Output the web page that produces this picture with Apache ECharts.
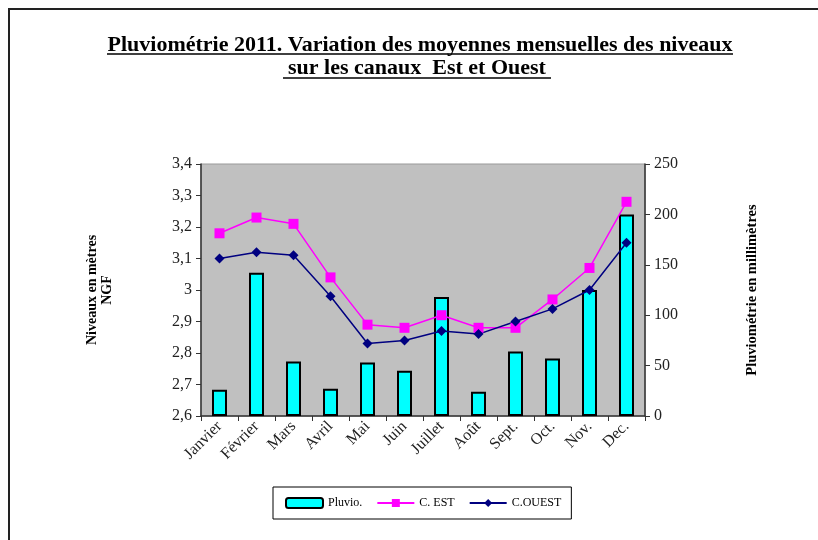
<!DOCTYPE html>
<html>
<head>
<meta charset="utf-8">
<script src="https://cdn.jsdelivr.net/npm/echarts@6/dist/echarts.min.js"></script>
<style>
html, body { margin: 0; padding: 0; background: #fff; }
#chart { width: 818px; height: 540px; }
</style>
</head>
<body>
<div id="chart"></div>
<script>
// monthly data
var months = ['Janvier', 'Février', 'Mars', 'Avril', 'Mai', 'Juin', 'Juillet', 'Août', 'Sept.', 'Oct.', 'Nov.', 'Dec.'];
var pluvio = [26, 142, 54, 27, 53, 45, 118, 24, 64, 57, 125, 200];
var canalEst = [3.18, 3.23, 3.21, 3.04, 2.89, 2.88, 2.92, 2.88, 2.88, 2.97, 3.07, 3.28];
var canalOuest = [3.10, 3.12, 3.11, 2.98, 2.83, 2.84, 2.87, 2.86, 2.90, 2.94, 3.00, 3.15];

var serif = '"Liberation Serif", "DejaVu Serif", serif';

var chart = echarts.init(document.getElementById('chart'));
var option = {
    backgroundColor: '#fff',
    animation: false,
    textStyle: { fontFamily: serif },
    graphic: [
        { type: 'polyline', shape: { points: [[9, 540], [9, 9], [818, 9]] }, style: { stroke: '#222', lineWidth: 2, fill: null } },
        { type: 'text', x: 420, y: 34, style: { text: 'Pluviométrie 2011. Variation des moyennes mensuelles des niveaux', font: 'bold 22px ' + serif, fill: '#000', align: 'center' } },
        { type: 'text', x: 417, y: 57, style: { text: 'sur les canaux  Est et Ouest', font: 'bold 22px ' + serif, fill: '#000', align: 'center' } },
        { type: 'line', shape: { x1: 107, y1: 54, x2: 733, y2: 54 }, style: { stroke: '#000', lineWidth: 1.5 } },
        { type: 'line', shape: { x1: 283, y1: 78, x2: 551, y2: 78 }, style: { stroke: '#000', lineWidth: 1.5 } }
    ],
    legend: {
        left: 273,
        top: 487,
        borderColor: '#000',
        borderWidth: 1,
        padding: [10, 10, 10, 12],
        itemGap: 14,
        itemWidth: 37,
        itemHeight: 10,
        textStyle: { fontFamily: serif, fontSize: 12, color: '#000' },
        data: ['Pluvio.', 'C. EST', 'C.OUEST']
    },
    grid: {
        left: 201,
        right: 173,
        top: 164,
        bottom: 124,
        show: true,
        backgroundColor: '#C0C0C0',
        borderColor: '#999',
        borderWidth: 1
    },
    xAxis: {
        type: 'category',
        data: months,
        axisLine: { lineStyle: { color: '#333', width: 1.5 } },
        axisTick: { show: true, length: 5, lineStyle: { color: '#333' } },
        axisLabel: { rotate: 45, color: '#222', fontFamily: serif, fontSize: 16, margin: 8 }
    },
    yAxis: [
        {
            type: 'value',
            min: 2.6,
            max: 3.4,
            interval: 0.1,
            name: 'Niveaux en mètres\nNGF',
            nameLocation: 'middle',
            nameRotate: 90,
            nameGap: 86,
            nameTextStyle: { fontFamily: serif, fontWeight: 'bold', fontSize: 14, color: '#000', lineHeight: 15 },
            axisLine: { show: true, lineStyle: { color: '#333', width: 1.5 } },
            axisTick: { show: true, length: 5, lineStyle: { color: '#333' } },
            splitLine: { show: false },
            axisLabel: {
                color: '#222', fontFamily: serif, fontSize: 16, margin: 9,
                formatter: function (v) { return (Math.round(v * 10) / 10).toString().replace('.', ','); }
            }
        },
        {
            type: 'value',
            min: 0,
            max: 250,
            interval: 50,
            name: 'Pluviométrie en millimètres',
            nameLocation: 'middle',
            nameRotate: 90,
            nameGap: 100,
            nameTextStyle: { fontFamily: serif, fontWeight: 'bold', fontSize: 14.5, color: '#000' },
            axisLine: { show: true, lineStyle: { color: '#333', width: 1.5 } },
            axisTick: { show: true, length: 5, lineStyle: { color: '#333' } },
            splitLine: { show: false },
            axisLabel: { color: '#222', fontFamily: serif, fontSize: 16, margin: 9 }
        }
    ],
    series: [
        {
            name: 'Pluvio.',
            type: 'bar',
            yAxisIndex: 1,
            data: pluvio,
            barWidth: 15,
            itemStyle: { color: '#00FFFF', borderColor: '#000', borderWidth: 2 }
        },
        {
            name: 'C. EST',
            type: 'line',
            yAxisIndex: 0,
            data: canalEst,
            symbol: 'rect',
            symbolSize: 10,
            itemStyle: { color: '#FF00FF' },
            lineStyle: { color: '#FF00FF', width: 1.5 }
        },
        {
            name: 'C.OUEST',
            type: 'line',
            yAxisIndex: 0,
            data: canalOuest,
            symbol: 'diamond',
            symbolSize: 10,
            itemStyle: { color: '#000080' },
            lineStyle: { color: '#000080', width: 1.5 }
        }
    ]
};
chart.setOption(option);
</script>
</body>
</html>
